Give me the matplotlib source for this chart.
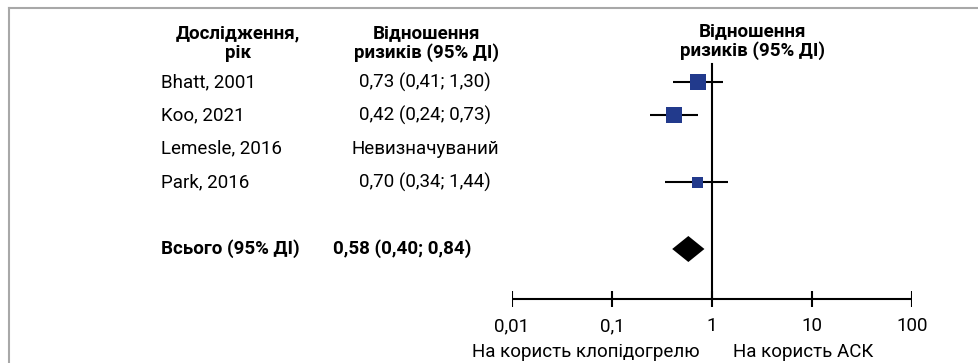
import numpy as np
import matplotlib
matplotlib.use("Agg")
import matplotlib.pyplot as plt
import matplotlib.transforms as mtransforms
from matplotlib.lines import Line2D

plt.rcParams['font.family'] = ['Roboto', 'DejaVu Sans']

# ---- data ----
studies = ["Bhatt, 2001", "Koo, 2021", "Lemesle, 2016", "Park, 2016"]
rr = [0.73, 0.42, np.nan, 0.70]
ci_low = [0.41, 0.24, np.nan, 0.34]
ci_high = [1.30, 0.73, np.nan, 1.44]
rr_labels = ["0,73 (0,41; 1,30)", "0,42 (0,24; 0,73)", "Невизначуваний", "0,70 (0,34; 1,44)"]
weights = [16, 16, np.nan, 11]  # relative square size
total_label = "Всього (95% ДІ)"
total_rr, total_low, total_high = 0.58, 0.40, 0.84
total_text = "0,58 (0,40; 0,84)"
tick_vals = [0.01, 0.1, 1, 10, 100]
tick_labels = ["0,01", "0,1", "1", "10", "100"]
favours_left = "На користь клопідогрелю"
favours_right = "На користь АСК"
hdr_study = "Дослідження,\nрік"
hdr_rr = "Відношення\nризиків (95% ДІ)"

# ---- layout ----
W, H = 979, 363
DPI = 100
fig = plt.figure(figsize=(W / DPI, H / DPI), dpi=DPI)
row0_px, row_step = 82.0, 33.4


def r_of(px):
    return (px - row0_px) / row_step


ax = fig.add_axes([512 / W, 0, 400 / W, 1])
ax.set_xscale('log')
ax.set_xlim(0.01, 100)
ax.set_ylim(r_of(H), r_of(0))
ax.axis('off')

blend = mtransforms.blended_transform_factory(fig.transFigure, ax.transData)

rows = [0, 1, 2, 3]
total_row = 5
fs = 13.5
col_study_x = 161 / W
col_rr_x = 425 / W

# headers
ax.text(238 / W, r_of(43), hdr_study, transform=blend, ha='center', va='center',
        fontsize=fs, fontweight='bold', linespacing=1.1)
ax.text(427 / W, r_of(43), hdr_rr, transform=blend, ha='center', va='center',
        fontsize=fs, fontweight='bold', linespacing=1.1)
ax.text(753 / W, r_of(41), hdr_rr, transform=blend, ha='center', va='center',
        fontsize=fs, fontweight='bold', linespacing=1.1)

# rows
for r, name, lab, est, lo, hi, w in zip(rows, studies, rr_labels, rr, ci_low, ci_high, weights):
    ax.text(col_study_x, r, name, transform=blend, ha='left', va='center', fontsize=fs)
    ax.text(col_rr_x, r, lab, transform=blend, ha='center', va='center', fontsize=fs)
    if not np.isnan(est):
        ax.plot([lo, hi], [r, r], color='black', lw=1.5, solid_capstyle='butt', zorder=2)
        ax.plot([est], [r], marker='s', ms=w * 72 / DPI, color='#223a8c',
                mec='#223a8c', mew=0, zorder=3)

ax.text(col_study_x, total_row, total_label, transform=blend, ha='left', va='center',
        fontsize=fs, fontweight='bold')
ax.text(333 / W, total_row, total_text, transform=blend, ha='left', va='center',
        fontsize=fs, fontweight='bold')

# diamond
dh = 13 / row_step
ax.fill([total_low, total_rr, total_high, total_rr],
        [total_row, total_row - dh, total_row, total_row + dh],
        color='black', lw=0, zorder=3)

# reference line at 1
axis_r = r_of(299)
ax.plot([1, 1], [r_of(64), axis_r], color='black', lw=1.5, zorder=1)

# x axis
ax.plot([tick_vals[0], tick_vals[-1]], [axis_r, axis_r], color='black', lw=1.5,
        solid_capstyle='butt')
for v, lab in zip(tick_vals, tick_labels):
    ax.plot([v, v], [r_of(291), r_of(307)], color='black', lw=1.5, solid_capstyle='butt')
    ax.text(v, r_of(326), lab, ha='center', va='center', fontsize=fs)

ax.text(0.76, r_of(352), favours_left, ha='right', va='center', fontsize=fs)
ax.text(1.62, r_of(352), favours_right, ha='left', va='center', fontsize=fs)

# frame (top and left)
fig.add_artist(Line2D([9 / W, 1], [1 - 8 / H, 1 - 8 / H], transform=fig.transFigure,
                      color='#a8a8a8', lw=1.5))
fig.add_artist(Line2D([9 / W, 9 / W], [0, 1 - 8 / H], transform=fig.transFigure,
                      color='#a8a8a8', lw=1.5))

fig.savefig("out.png", dpi=DPI)
